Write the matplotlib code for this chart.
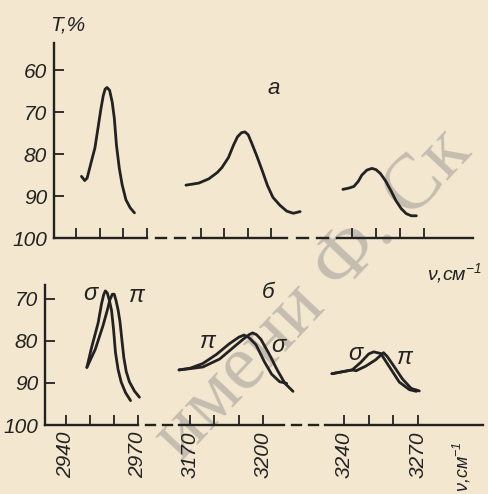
import matplotlib.pyplot as plt
from matplotlib.lines import Line2D

W, H = 488, 494
BG = '#f3e7cf'
INK = '#222222'

plt.rcParams['font.family'] = ['Liberation Sans', 'DejaVu Sans']
plt.rcParams['font.style'] = 'italic'
plt.rcParams['mathtext.default'] = 'regular'

# ---- data ----
# panel "a"
a1_nu = [2942.3, 2943.7, 2944.7, 2946.7, 2948.0, 2949.2, 2950.5, 2951.5, 2952.3, 2953.1,
         2954.2, 2955.3, 2956.2, 2957.1, 2958.3, 2959.5, 2961.1, 2962.9, 2964.7]
a1_T = [85.3, 86.3, 85.7, 81.3, 78.5, 74.1, 69.3, 66.1, 64.5, 64.1,
        64.8, 67.6, 71.5, 77.9, 83.4, 87.3, 90.9, 92.8, 94.0]
a2_nu = [3163.6, 3169.1, 3173.3, 3176.9, 3178.9, 3181.7, 3183.8, 3185.5, 3187.2, 3188.7,
         3190.1, 3191.6, 3193.8, 3196.1, 3198.3, 3200.6, 3203.6, 3206.5, 3209.3, 3212.2]
a2_T = [87.4, 86.9, 85.9, 84.4, 83.2, 80.8, 77.9, 75.9, 74.9, 74.7,
        75.4, 77.4, 80.5, 84.0, 87.5, 90.3, 92.2, 93.6, 94.1, 93.7]
a3_nu = [3236.2, 3238.7, 3240.8, 3242.6, 3244.1, 3246.2, 3248.3, 3250.0, 3251.8, 3254.0,
         3256.2, 3258.3, 3260.5, 3262.6, 3264.7, 3266.8]
a3_T = [88.4, 88.1, 87.7, 86.5, 85.0, 83.8, 83.4, 83.7, 84.6, 86.4,
        88.7, 91.1, 93.0, 94.2, 94.7, 94.7]

# panel "б", sigma and pi polarisation
s1_nu = [2948.7, 2950.6, 2953.4, 2954.8, 2955.7, 2956.4, 2957.2, 2958.0, 2959.0, 2959.8,
         2960.6, 2961.7, 2963.0, 2964.8, 2966.9]
s1_T = [86.3, 81.7, 75.7, 71.2, 69.0, 68.1, 68.6, 70.2, 72.8, 77.2,
        82.7, 86.8, 89.8, 92.3, 94.2]
p1_nu = [2948.7, 2952.2, 2955.4, 2957.3, 2958.3, 2959.3, 2960.1, 2960.8, 2961.7, 2962.5,
         2963.3, 2964.1, 2965.1, 2966.4, 2968.5, 2970.6]
p1_T = [86.3, 82.0, 76.4, 72.5, 70.2, 68.9, 68.9, 70.3, 72.6, 75.5,
        79.8, 84.0, 87.3, 89.7, 91.9, 93.4]
s2_nu = [3165.5, 3170.0, 3175.3, 3182.2, 3187.3, 3191.4, 3194.3, 3195.7, 3197.3, 3199.1,
         3202.5, 3206.0, 3209.0, 3212.3]
s2_T = [86.9, 86.6, 86.2, 84.3, 81.8, 79.8, 78.5, 78.1, 78.5, 79.6,
        83.1, 87.1, 90.1, 92.0]
p2_nu = [3165.5, 3170.0, 3175.2, 3180.9, 3186.1, 3190.1, 3192.2, 3194.2, 3197.1, 3200.5,
         3203.5, 3206.8, 3209.7]
p2_T = [86.9, 86.5, 85.4, 83.2, 80.7, 79.1, 78.6, 79.2, 80.9, 84.9,
        87.9, 89.7, 90.1]
s3_nu = [3235.1, 3243.3, 3246.8, 3250.0, 3252.0, 3254.9, 3258.2, 3262.4, 3266.5, 3269.3]
s3_T = [87.8, 86.9, 85.1, 83.1, 82.6, 83.0, 86.0, 89.8, 91.6, 92.0]
p3_nu = [3235.1, 3243.3, 3244.9, 3248.8, 3252.8, 3256.0, 3257.5, 3260.2, 3263.6, 3267.2, 3270.5]
p3_T = [87.8, 86.9, 87.1, 86.0, 84.5, 82.8, 83.7, 86.0, 89.0, 91.3, 91.9]

top_yticks = [60, 70, 80, 90, 100]
bot_yticks = [70, 80, 90, 100]
seg_ticks = [[2940, 2950, 2960, 2970], [3170, 3180, 3190, 3200], [3240, 3250, 3260, 3270]]
seg_labels = [['2940', '', '', '2970'], ['3170', '', '', '3200'], ['3240', '', '', '3270']]

# ---- layout (pixels) ----
fig = plt.figure(figsize=(W / 100, H / 100), dpi=100, facecolor=BG)


def px_box(x0, x1, ytop, ybot):
    return [x0 / W, 1 - ybot / H, (x1 - x0) / W, (ybot - ytop) / H]


def ftext(x, y, s, **kw):
    kw.setdefault('color', INK)
    return fig.text(x / W, 1 - y / H, s, **kw)


# library stamp across the scanned page
ftext(314, 295, 'имени Ф. Ск', rotation=46.6, fontsize=57,
      family='Liberation Serif', style='normal', color='#c4bdb0',
      ha='center', va='center', zorder=-1)

top_segs = [(54, 147, (2930.7, 2970.0)), (193, 287, (3166.6, 3206.6)), (337, 473, (3233.75, 3290.4))]
bot_segs = [(45, 138, (2931.25, 2970.0)), (179, 284, (3165.5, 3208.6)), (325, 483, (3232.3, 3296.3))]
top_y = (43, 238, (100, 53.5))
bot_y = (285, 425, (100, 66.7))


def make_row(segs, yinfo, yticks, labels):
    ytop, ybot, ylim = yinfo
    axes = []
    for i, (x0, x1, xlim) in enumerate(segs):
        ax = fig.add_axes(px_box(x0, x1, ytop, ybot))
        ax.set_facecolor('none')
        ax.set_xlim(*xlim)
        ax.set_ylim(*ylim)
        for side in ['top', 'right']:
            ax.spines[side].set_visible(False)
        for side in ['bottom', 'left']:
            ax.spines[side].set_linewidth(1.7)
            ax.spines[side].set_color(INK)
        ax.tick_params(direction='in', length=7, width=1.3, color=INK,
                       labelsize=15, labelcolor=INK)
        ax.set_xticks(seg_ticks[i])
        if labels:
            ax.set_xticklabels(seg_labels[i], rotation=90, va='top')
            ax.tick_params(axis='x', pad=5)
        else:
            ax.set_xticklabels([])
        if i == 0:
            ax.set_yticks(yticks)
            ax.tick_params(axis='y', pad=5)
        else:
            ax.spines['left'].set_visible(False)
            ax.set_yticks([])
        axes.append(ax)
    # dashed breaks of the frequency axis
    for j in range(len(segs) - 1):
        xa, xb = segs[j][1], segs[j + 1][0]
        g = xb - xa
        for f0, f1 in [(0.2, 0.42), (0.6, 0.82)]:
            fig.add_artist(Line2D([(xa + f0 * g) / W, (xa + f1 * g) / W],
                                  [1 - ybot / H, 1 - ybot / H],
                                  transform=fig.transFigure, color=INK, lw=1.7))
    return axes


top_axes = make_row(top_segs, top_y, top_yticks, False)
bot_axes = make_row(bot_segs, bot_y, bot_yticks, True)

line_kw = dict(color=INK, lw=2.0, clip_on=False, solid_capstyle='round', solid_joinstyle='round')
top_axes[0].plot(a1_nu, a1_T, **line_kw)
top_axes[1].plot(a2_nu, a2_T, **line_kw)
top_axes[2].plot(a3_nu, a3_T, **line_kw)
bot_axes[0].plot(s1_nu, s1_T, **line_kw)
bot_axes[0].plot(p1_nu, p1_T, **line_kw)
bot_axes[1].plot(s2_nu, s2_T, **line_kw)
bot_axes[1].plot(p2_nu, p2_T, **line_kw)
bot_axes[2].plot(s3_nu, s3_T, **line_kw)
bot_axes[2].plot(p3_nu, p3_T, **line_kw)

# labels
ftext(68, 25, 'T,%', fontsize=15, ha='center', va='center')
ftext(274, 89, 'а', fontsize=16, ha='center', va='center')
ftext(268, 292, 'б', fontsize=16, ha='center', va='center')
ftext(427, 280, r'ν,см$^{-1}$', fontsize=14, ha='left', va='baseline')
ftext(462, 441, r'ν,см$^{-1}$', fontsize=13, rotation=90, ha='center', va='top')

ftext(90, 294, 'σ', fontsize=17, ha='center', va='center')
ftext(137, 295, 'π', fontsize=17, ha='center', va='center')
ftext(208, 341, 'π', fontsize=17, ha='center', va='center')
ftext(278, 346, 'σ', fontsize=17, ha='center', va='center')
ftext(355, 354, 'σ', fontsize=17, ha='center', va='center')
ftext(405, 357, 'π', fontsize=17, ha='center', va='center')

fig.savefig('out.png', dpi=100, facecolor=BG)
